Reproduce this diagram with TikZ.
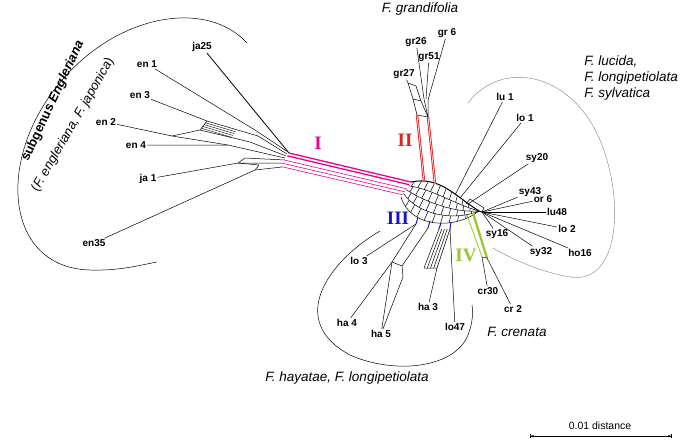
\documentclass[tikz,border=0pt]{standalone}
\usepackage{fontspec}
\setmainfont{Liberation Sans}
\newfontfamily\numfont{Liberation Serif}
\usetikzlibrary{arrows.meta,calc}
\definecolor{splitgreen}{RGB}{150,200,40}
\definecolor{splitblue}{RGB}{20,20,210}
\definecolor{splitred}{RGB}{230,30,30}

\begin{document}
\begin{tikzpicture}[
  x=1pt, y=-1pt,
  line width=0.5pt,
  taxon/.style={font=\fontsize{10}{12}\selectfont\bfseries,inner sep=1pt},
  species/.style={font=\fontsize{13.5}{16}\selectfont\itshape,inner sep=0pt,align=left},
  split/.style={font=\numfont\fontsize{19}{20}\selectfont\bfseries,inner sep=0pt}
  ]
  \useasboundingbox (0,0) rectangle (685,440);

  % taxa
  \node [taxon] (ja25) at (202,47) {ja25};
  \node [taxon] (en1) at (147,64) {en 1};
  \node [taxon] (en3) at (140,95) {en 3};
  \node [taxon] (en2) at (106,122) {en 2};
  \node [taxon] (en4) at (136,145) {en 4};
  \node [taxon] (ja1) at (148,179) {ja 1};
  \node [taxon] (en35) at (94,243) {en35};
  \node [taxon] (gr26) at (416,42) {gr26};
  \node [taxon] (gr6) at (447,33) {gr 6};
  \node [taxon] (gr51) at (429,57) {gr51};
  \node [taxon] (gr27) at (404,74) {gr27};
  \node [taxon] (lu1) at (505,97) {lu 1};
  \node [taxon] (lo1) at (525,118) {lo 1};
  \node [taxon] (sy20) at (537,158) {sy20};
  \node [taxon] (sy43) at (530,192) {sy43};
  \node [taxon] (or6) at (543,199) {or 6};
  \node [taxon] (lu48) at (557,212) {lu48};
  \node [taxon] (lo2) at (567,229) {lo 2};
  \node [taxon] (ho16) at (580,253) {ho16};
  \node [taxon] (sy32) at (541,252) {sy32};
  \node [taxon] (sy16) at (497,234) {sy16};
  \node [taxon] (cr30) at (488,291) {cr30};
  \node [taxon] (cr2) at (513,309) {cr 2};
  \node [taxon] (lo3) at (359,261) {lo 3};
  \node [taxon] (ha4) at (347,323) {ha 4};
  \node [taxon] (ha5) at (381,334) {ha 5};
  \node [taxon] (ha3) at (428,307) {ha 3};
  \node [taxon] (lo47) at (455,327) {lo47};

  % groups
  \node [species] (grand) at (420,9) {F. grandifolia};
  \node [species,anchor=west] (luc) at (584,78) {F. lucida,\\F. longipetiolata\\F. sylvatica};
  \node [species] (cren) at (517,332) {F. crenata};
  \node [species] (haya) at (347,378) {F. hayatae, F. longipetiolata};
  \node [font=\fontsize{13}{15}\selectfont\bfseries,rotate=65,inner sep=0pt] (subg) at (53,101) {subgenus \textit{Engleriana}};
  \node [font=\fontsize{13}{15}\selectfont,rotate=60,inner sep=0pt] (engl) at (73,125) {(\textit{F. engleriana, F. japonica})};

  \draw (247,43) .. controls (200,-8) and (90,20) .. (38,115)
        .. controls (0,185) and (15,268) .. (90,270)
        .. controls (120,271) and (140,265) .. (157,262);
  \draw [gray,line width=0.4pt] (468,103) .. controls (500,60) and (570,70) .. (600,140)
        .. controls (625,200) and (620,285) .. (570,277)
        .. controls (540,272) and (510,258) .. (493,248);
  \draw (380,231) .. controls (330,260) and (285,320) .. (350,355)
        .. controls (395,375) and (455,368) .. (468,335)
        .. controls (473,322) and (473,312) .. (472,305);

  % left fan
  \coordinate (hL1) at (289,153);
  \coordinate (hL2) at (280,169);
  \coordinate (f1) at (255,130);
  \coordinate (f2) at (207,121);
  \coordinate (f3) at (172,136);
  \coordinate (f4) at (200,130);
  \coordinate (f5) at (228,145);
  \coordinate (f6) at (238,163);
  \coordinate (f7) at (255,170);
  \draw [line width=0.8pt] (ja25) -- (hL1);
  \draw (en1) -- (f1) -- (288,152);
  \draw (en3) -- (f2) -- (258,136) -- (287,154);
  \draw (en2) -- (f3) -- (f4) -- (f2);
  \draw (f4) -- (250,142) -- (286,156);
  \draw (en4) -- (f5) -- (285,158);
  \draw (f3) -- (f5);
  \foreach \d in {1,...,4}
    \draw [line width=0.4pt] ($(f2)!0.2*\d!(f4)$) -- ++(30,9);
  \draw (ja1) -- (f6) -- (284,163);
  \draw (en35) -- (f7) -- (282,167);
  \draw (f6) -- (245,158) -- (285,160);
  \draw (f7) -- (259,165) -- (f6);

  % split I
  \foreach \t/\w in {0/1.3,0.18/1.3,0.45/0.6,0.65/0.6,0.85/0.6}
    \draw [magenta,line width=\w pt] ($(hL1)!\t!(hL2)$) -- ($(411,182)!\t!(401,197)$);
  \node [split,magenta] (sI) at (318,143) {I};

  % central mesh
  \coordinate (t0) at (411,182); \coordinate (t1) at (440,176);
  \coordinate (t2) at (455,196); \coordinate (t3) at (479,211);
  \coordinate (b0) at (401,197); \coordinate (b1) at (410,228);
  \coordinate (b2) at (455,230);
  \foreach \s in {0.25,0.5,0.75,1}
    \draw ($(t0)!\s!(b0)$) .. controls ($(t1)!\s!(b1)$) and ($(t2)!\s!(b2)$) .. (t3);
  \draw [line width=1pt] (t0) .. controls (t1) and (t2) .. (t3);
  \foreach \p in {0.04,0.13,...,0.9}
    \foreach \k in {0,1,2,3} {
      \pgfmathsetmacro\q{\p+0.025*\k}
      \path (t0) .. controls (t1) and (t2) .. (t3) coordinate[pos=\q] (mt)
            (b0) .. controls (b1) and (b2) .. (t3) coordinate[pos=\q] (mb);
      \draw ($(mt)!0.25*\k!(mb)$) -- ($(mt)!0.25*\k+0.25!(mb)$);
    }

  % F. grandifolia and split II
  \coordinate (gA) at (408,83); \coordinate (gB) at (416,86);
  \coordinate (gE) at (413,99); \coordinate (gF) at (421,101);
  \coordinate (gD) at (417,115); \coordinate (gC) at (428,117);
  \draw (gr27) -- (gA) -- (gE) -- (gD) -- (gC);
  \draw (gA) -- (gB) -- (gF) -- (gC);
  \draw (gE) -- (gF);
  \draw (gr26) -- (424,99) -- (gC);
  \draw (gr51) -- (426,99);
  \draw (gr6) -- (428,100) -- (gC);
  \draw [splitred,double=white,double distance=0.6pt,line width=0.9pt] (gD) -- (424,181);
  \draw [splitred,double=white,double distance=0.6pt,line width=0.9pt] (gC) -- (435,184);
  \node [split,splitred] (sII) at (405,140) {II};

  % right hub
  \coordinate (hubR) at (482,212);
  \draw [line width=1pt] (t3) -- (hubR);
  \draw (466,204) -- (470,199) -- (484,208) -- (hubR);
  \draw (455,195) -- (lu1);
  \draw (460,198) -- (lo1);
  \draw (468,204) -- (sy20);
  \foreach \n in {sy43,or6,lu48,lo2,ho16,sy32,sy16}
    \draw (hubR) -- (\n);

  % split IV, F. crenata
  \coordinate (c1) at (482,257); \coordinate (c2) at (487,258);
  \draw [splitgreen,line width=0.8pt] (467,215) -- (c1);
  \draw [splitgreen,line width=2.2pt] (473,213) -- (c2);
  \draw (c1) -- (c2);
  \draw (c1) -- (cr30);
  \draw (c2) -- (cr2);
  \node [split,splitgreen] (sIV) at (466,255) {IV};

  % split III, hayatae group
  \coordinate (r1) at (418,217); \coordinate (r2) at (430,221);
  \coordinate (r3) at (441,223); \coordinate (r4) at (451,222);
  \coordinate (h1) at (416,224); \coordinate (h2) at (428,228);
  \coordinate (h3) at (439,229); \coordinate (h4) at (450,229);
  \foreach \i in {1,...,4}
    \draw [splitblue,line width=1pt] (r\i) -- (h\i);
  \node [split,splitblue] (sIII) at (398,218) {III};
  \coordinate (k1) at (392,262); \coordinate (k2) at (402,266);
  \coordinate (k3) at (403,277);
  \draw (h1) -- (lo3);
  \draw (h1) -- (k1) -- (ha4);
  \draw (h2) -- (k2) -- (k3) -- (ha5);
  \draw (k1) -- (k2);
  \draw (k1) -- (ha5);
  \foreach \d in {0,0.25,0.5,0.75,1}
    \draw ($(h3)!\d!(h4)$) -- ($(424,268)!\d!(437,268)$);
  \draw (424,268) -- (437,268) -- (ha3);
  \draw (h4) -- (lo47);

  % scale
  \draw [{Bar[width=4pt]Latex[length=3pt]}-{Latex[length=3pt]Bar[width=4pt]},line width=0.6pt] (530,436) coordinate (sc1) -- (672,436) coordinate (sc2);
  \node [font=\fontsize{10.5}{12}\selectfont] (dist) at (600,426) {0.01 distance};
\end{tikzpicture}
\end{document}
